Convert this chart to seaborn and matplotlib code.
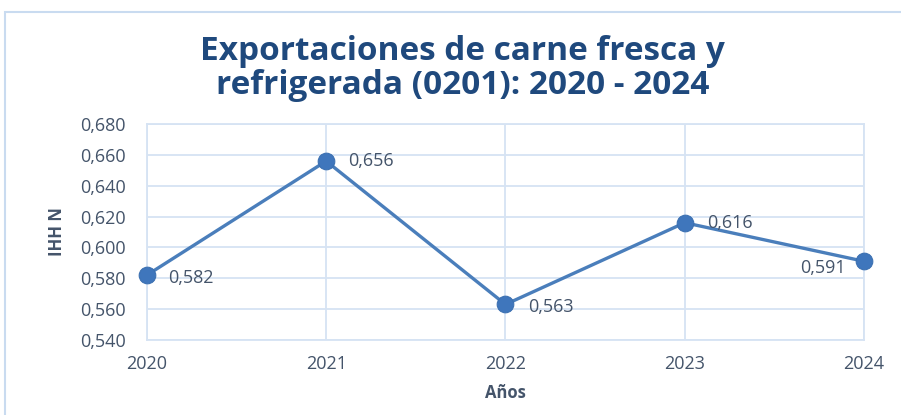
import matplotlib
matplotlib.use('Agg')
import matplotlib.pyplot as plt
import seaborn as sns
import pandas as pd
from matplotlib.patches import Rectangle

years = [2020, 2021, 2022, 2023, 2024]
ihh = [0.582, 0.656, 0.563, 0.616, 0.591]
labels = ['0,582', '0,656', '0,563', '0,616', '0,591']
yticks = [0.540, 0.560, 0.580, 0.600, 0.620, 0.640, 0.660, 0.680]

sns.set_style('white')
plt.rcParams['font.family'] = ['Open Sans', 'DejaVu Sans']

txt = '#44546A'
title_c = '#1F497D'
grid_c = '#D6E3F3'
line_c = '#4A7EBB'

df = pd.DataFrame({'year': years, 'ihh': ihh})

fig = plt.figure(figsize=(9.01, 4.15), dpi=100)
ax = fig.add_axes([0.163, 0.181, 0.796, 0.520])

sns.lineplot(data=df, x='year', y='ihh', ax=ax, color=line_c, linewidth=2.4,
             marker='o', markersize=12, markeredgecolor='#3A6FB0', markerfacecolor='#3F76BC',
             clip_on=False, zorder=5)

ax.set_xlim(2020, 2024)
ax.set_ylim(0.540, 0.680)
ax.set_xticks(years)
ax.set_xticklabels([str(y) for y in years], color=txt, fontsize=13)
ax.set_yticks(yticks)
ax.set_yticklabels([('%.3f' % v).replace('.', ',') for v in yticks], color=txt, fontsize=13)
ax.tick_params(axis='x', pad=11, length=0)
ax.tick_params(axis='y', pad=15, length=0)
ax.grid(True, color=grid_c, linewidth=1.3)
for s in ax.spines.values():
    s.set_color(grid_c)
    s.set_linewidth(1.3)

offsets = [(15, -2), (16, 0), (16, -2), (16, 0), (-13, -5)]
has = ['left', 'left', 'left', 'left', 'right']
for x, y, lab, off, ha in zip(years, ihh, labels, offsets, has):
    ax.annotate(lab, (x, y), xytext=off, textcoords='offset points', ha=ha, va='center',
                color=txt, fontsize=13, zorder=6)

ax.set_xlabel('Años', color=txt, fontsize=12, fontweight='bold', labelpad=8)
ax.set_ylabel('IHH N', color=txt, fontsize=12, fontweight='bold', labelpad=10)

fig.text(0.513, 0.835, 'Exportaciones de carne fresca y\nrefrigerada (0201): 2020 - 2024',
         ha='center', va='center', color=title_c, fontsize=24, fontweight='bold', linespacing=1.05)

fig.patches.append(Rectangle((5 / 901, -0.01), 1.0, 1 - 12 / 415 + 0.01, transform=fig.transFigure,
                             fill=False, edgecolor='#C9DBF0', linewidth=1.5))

fig.savefig('out.png', dpi=100)
